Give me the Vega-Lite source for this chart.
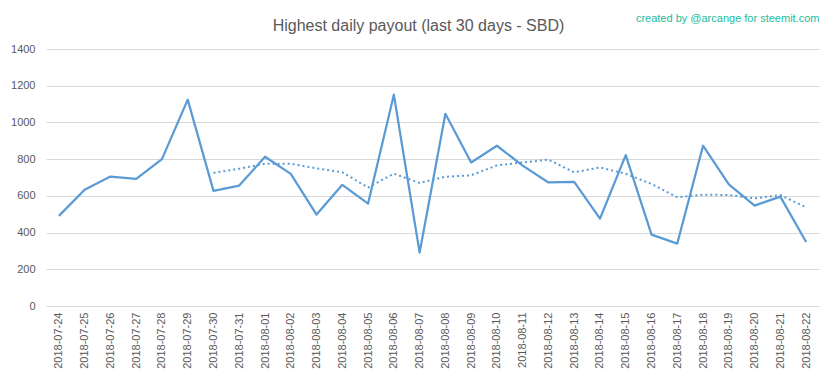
{
  "$schema": "https://vega.github.io/schema/vega-lite/v6.json",
  "autosize": "none",
  "width": 773,
  "height": 257,
  "padding": {"left": 46, "top": 49, "right": 14, "bottom": 73},
  "background": "white",
  "config": {
    "view": {"stroke": null},
    "font": "Liberation Sans",
    "axis": {"labelColor": "#595959", "labelFont": "Liberation Sans", "labelFontSize": 11, "titleFont": "Liberation Sans"},
    "axisY": {"title": null, "values": [0, 200, 400, 600, 800, 1000, 1200, 1400], "format": "d", "labelOverlap": false, "ticks": false, "domain": false, "labelPadding": 11, "gridColor": "#D9D9D9", "gridWidth": 1}
  },
  "title": {
    "text": "Highest daily payout (last 30 days - SBD)",
    "anchor": "middle",
    "frame": "group",
    "fontSize": 16,
    "fontWeight": "normal",
    "color": "#595959",
    "dx": -14,
    "dy": 26
  },
  "data": {
    "values": [
      {"date": "2018-07-24", "payout": 491, "avg": null},
      {"date": "2018-07-25", "payout": 633, "avg": null},
      {"date": "2018-07-26", "payout": 705, "avg": null},
      {"date": "2018-07-27", "payout": 693, "avg": null},
      {"date": "2018-07-28", "payout": 800, "avg": null},
      {"date": "2018-07-29", "payout": 1124, "avg": null},
      {"date": "2018-07-30", "payout": 627, "avg": 725},
      {"date": "2018-07-31", "payout": 656, "avg": 748},
      {"date": "2018-08-01", "payout": 813, "avg": 775},
      {"date": "2018-08-02", "payout": 720, "avg": 775},
      {"date": "2018-08-03", "payout": 498, "avg": 750},
      {"date": "2018-08-04", "payout": 660, "avg": 728},
      {"date": "2018-08-05", "payout": 558, "avg": 646},
      {"date": "2018-08-06", "payout": 1151, "avg": 721},
      {"date": "2018-08-07", "payout": 291, "avg": 670},
      {"date": "2018-08-08", "payout": 1047, "avg": 704},
      {"date": "2018-08-09", "payout": 782, "avg": 712},
      {"date": "2018-08-10", "payout": 873, "avg": 766},
      {"date": "2018-08-11", "payout": 765, "avg": 782},
      {"date": "2018-08-12", "payout": 673, "avg": 797},
      {"date": "2018-08-13", "payout": 676, "avg": 728},
      {"date": "2018-08-14", "payout": 476, "avg": 755},
      {"date": "2018-08-15", "payout": 822, "avg": 720},
      {"date": "2018-08-16", "payout": 389, "avg": 665},
      {"date": "2018-08-17", "payout": 340, "avg": 592},
      {"date": "2018-08-18", "payout": 873, "avg": 606},
      {"date": "2018-08-19", "payout": 662, "avg": 605},
      {"date": "2018-08-20", "payout": 547, "avg": 586},
      {"date": "2018-08-21", "payout": 596, "avg": 604},
      {"date": "2018-08-22", "payout": 349, "avg": 538}
    ]
  },
  "layer": [
    {
      "mark": {"type": "line", "color": "#5B9BD5", "strokeWidth": 2.25, "strokeJoin": "round"},
      "encoding": {
        "x": {
          "field": "date", "type": "ordinal",
          "scale": {"type": "point", "padding": 0.5},
          "axis": {"orient": "bottom", "title": null, "labelAngle": -90, "labelPadding": 6, "ticks": false, "domain": false, "grid": false}
        },
        "y": {
          "field": "payout", "type": "quantitative",
          "scale": {"domain": [0, 1400], "nice": false},
          "axis": {"title": null}
        }
      }
    },
    {
      "mark": {"type": "line", "color": "#5B9BD5", "strokeWidth": 2, "strokeDash": [2, 3]},
      "encoding": {
        "x": {
          "field": "date", "type": "ordinal",
          "scale": {"type": "point", "padding": 0.5},
          "axis": {"orient": "top", "title": "created by @arcange for steemit.com", "titleAnchor": "end", "titleColor": "#1ABC9C", "titleFontSize": 11, "titleFontWeight": "normal", "titlePadding": 26, "labels": false, "ticks": false, "domain": false, "grid": false}
        },
        "y": {"field": "avg", "type": "quantitative", "axis": {"title": null}}
      }
    }
  ],
  "resolve": {"axis": {"x": "independent"}}
}
